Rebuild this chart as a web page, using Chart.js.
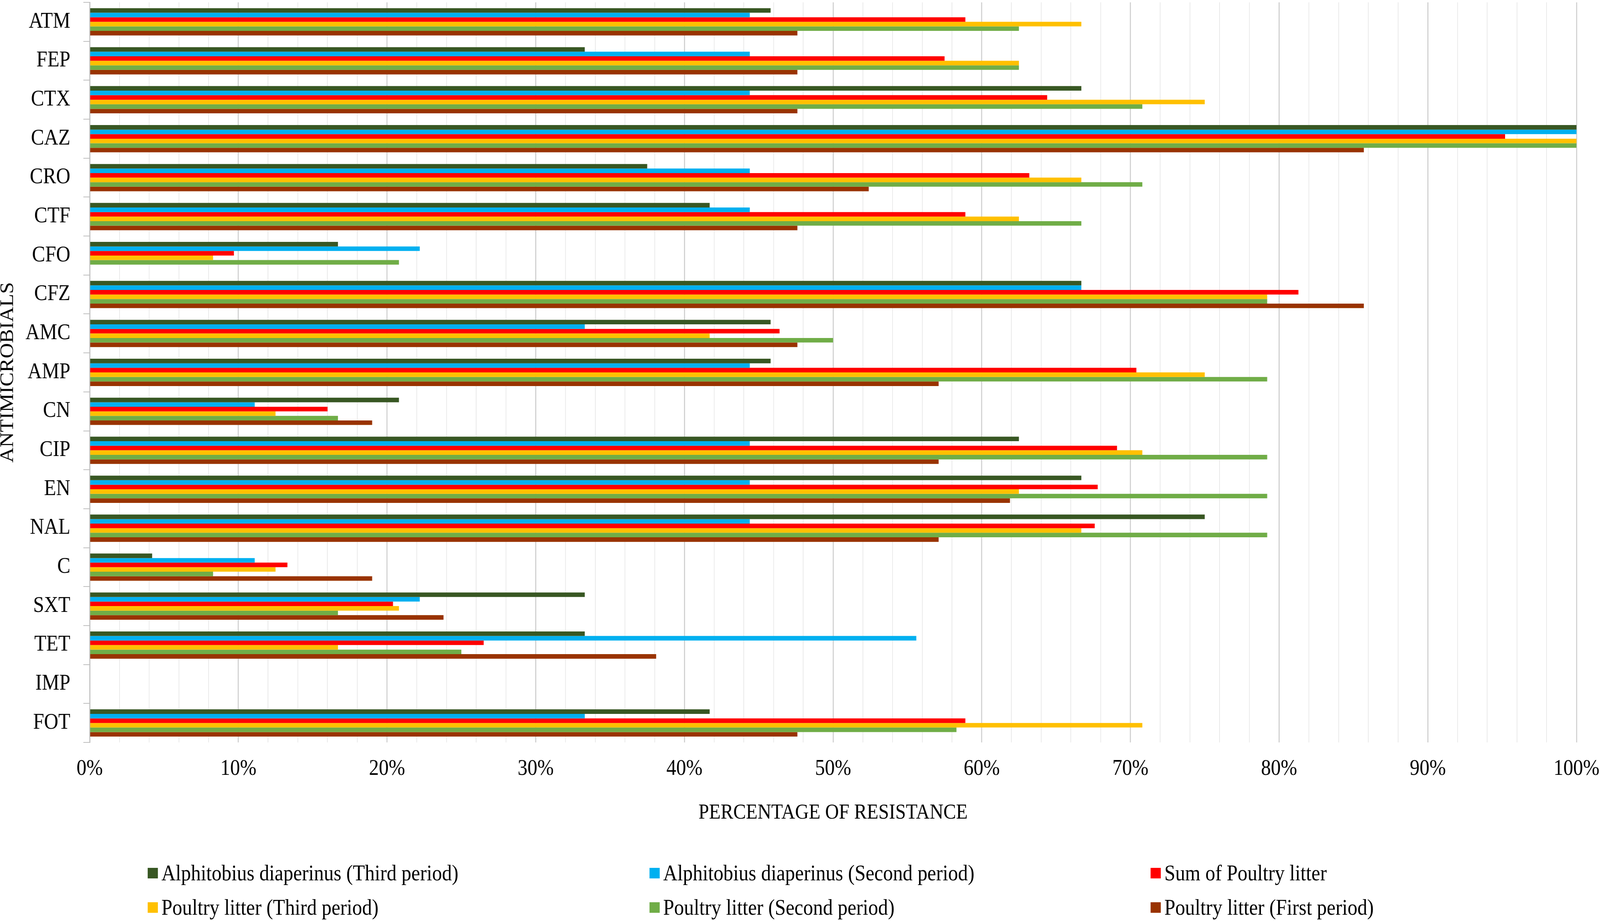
<!DOCTYPE html>
<html>
<head>
<meta charset="utf-8">
<script src="https://cdn.jsdelivr.net/npm/chart.js@4.4.1/dist/chart.umd.min.js"></script>
<style>
html,body{margin:0;padding:0;background:#fff;overflow:hidden;}
#wrap{position:absolute;left:0;top:0;width:4550px;height:2357px;overflow:hidden;background:#fff;transform-origin:0 0;}
#c{position:absolute;left:0;top:0;}
#legend{position:absolute;left:0;top:0;width:100%;height:100%;pointer-events:none;font-family:'Liberation Serif',serif;font-size:56px;color:#000;}
.item{position:absolute;display:flex;align-items:center;white-space:nowrap;transform:translateY(-50%);}
.sw{width:29px;height:27px;margin-right:10px;flex:none;}
</style>
</head>
<body>
<div id="wrap">
<canvas id="c" width="4550" height="2357"></canvas>
<div id="legend"></div>
</div>
<script>
// ---------- data ----------
const categories = ['ATM','FEP','CTX','CAZ','CRO','CTF','CFO','CFZ','AMC','AMP','CN','CIP','EN','NAL','C','SXT','TET','IMP','FOT'];

const alphitobiusThird  = [45.8, 33.3, 66.7, 100, 37.5, 41.7, 16.7, 66.7, 45.8, 45.8, 20.8, 62.5, 66.7, 75.0,  4.2, 33.3, 33.3, 0, 41.7];
const alphitobiusSecond = [44.4, 44.4, 44.4, 100, 44.4, 44.4, 22.2, 66.7, 33.3, 44.4, 11.1, 44.4, 44.4, 44.4, 11.1, 22.2, 55.6, 0, 33.3];
const sumPoultryLitter  = [58.9, 57.5, 64.4, 95.2, 63.2, 58.9,  9.7, 81.3, 46.4, 70.4, 16.0, 69.1, 67.8, 67.6, 13.3, 20.4, 26.5, 0, 58.9];
const litterThird       = [66.7, 62.5, 75.0, 100, 66.7, 62.5,  8.3, 79.2, 41.7, 75.0, 12.5, 70.8, 62.5, 66.7, 12.5, 20.8, 16.7, 0, 70.8];
const litterSecond      = [62.5, 62.5, 70.8, 100, 70.8, 66.7, 20.8, 79.2, 50.0, 79.2, 16.7, 79.2, 79.2, 79.2,  8.3, 16.7, 25.0, 0, 58.3];
const litterFirst       = [47.6, 47.6, 47.6, 85.7, 52.4, 47.6,  0,  85.7, 47.6, 57.1, 19.0, 57.1, 61.9, 57.1, 19.0, 23.8, 38.1, 0, 47.6];

const seriesLabels = [
  'Alphitobius diaperinus (Third period)',
  'Alphitobius diaperinus (Second period)',
  'Sum of Poultry litter',
  'Poultry litter (Third period)',
  'Poultry litter (Second period)',
  'Poultry litter (First period)'
];
const seriesColors = ['#385723', '#00B0F0', '#FF0000', '#FFC000', '#70AD47', '#993300'];
const seriesData = [alphitobiusThird, alphitobiusSecond, sumPoultryLitter, litterThird, litterSecond, litterFirst];

const xTickLabels = ['0%','10%','20%','30%','40%','50%','60%','70%','80%','90%','100%'];
const xAxisTitle = 'PERCENTAGE OF RESISTANCE';
const yAxisTitle = 'ANTIMICROBIALS';

// ---------- fit the 4550x2357 design into the actual viewport ----------
const W = 4550, H = 2357;
const sx = Math.min(1, window.innerWidth / W);
const sy = Math.min(1, window.innerHeight / H);
const wrap = document.getElementById('wrap');
if (sx < 1 || sy < 1) wrap.style.transform = 'scale(' + sx + ',' + sy + ')';

// ---------- chart ----------
Chart.defaults.font.family = "'Liberation Serif', 'Times New Roman', serif";
Chart.defaults.color = '#000';

new Chart(document.getElementById('c'), {
  type: 'bar',
  data: {
    labels: categories,
    datasets: seriesLabels.map((label, i) => ({
      label: label,
      data: seriesData[i],
      backgroundColor: seriesColors[i],
      borderWidth: 0,
      categoryPercentage: 0.70,
      barPercentage: 1.0
    }))
  },
  options: {
    indexAxis: 'y',
    responsive: false,
    animation: false,
    devicePixelRatio: 1,
    layout: { autoPadding: false, padding: { left: 0, top: 6, right: 67, bottom: 244 } },
    plugins: { legend: { display: false }, tooltip: { enabled: false } },
    scales: {
      x: {
        min: 0, max: 100,
        position: 'bottom',
        ticks: {
          stepSize: 2, autoSkip: false, maxRotation: 0, minRotation: 0,
          padding: 35, font: { size: 56 },
          callback: (v) => (Math.round(v) % 10 === 0 ? xTickLabels[Math.round(v) / 10] : '')
        },
        grid: {
          drawTicks: false,
          color: (c) => (c.tick && Math.round(c.tick.value) % 10 === 0 ? '#cfcfcf' : '#e8e8e8'),
          lineWidth: (c) => (c.tick && Math.round(c.tick.value) % 10 === 0 ? 3 : 2)
        },
        border: { display: false },
        title: { display: true, text: xAxisTitle, font: { size: 54 }, padding: { top: 11, bottom: 0 } },
        afterFit: (s) => { s.paddingLeft = 0; s.paddingRight = 0; }
      },
      y: {
        ticks: { font: { size: 56 }, padding: 37, autoSkip: false },
        grid: { drawOnChartArea: false, drawTicks: true, tickLength: 18, color: '#bfbfbf', lineWidth: 2, offset: true },
        border: { display: true, color: '#bfbfbf', width: 3 },
        title: { display: true, text: yAxisTitle, font: { size: 54, lineHeight: 0.85 }, padding: 0 },
        afterFit: (s) => { s.width = 255; s.paddingTop = 0; s.paddingBottom = 0; }
      }
    }
  }
});

// ---------- legend (3-column grid, as in the reference) ----------
const legendCols = [420, 1847, 3272];
const legendRows = [2234, 2322];
const legend = document.getElementById('legend');
seriesLabels.forEach((label, i) => {
  const item = document.createElement('div');
  item.className = 'item';
  item.style.left = legendCols[i % 3] + 'px';
  item.style.top = legendRows[Math.floor(i / 3)] + 'px';
  const sw = document.createElement('span');
  sw.className = 'sw';
  sw.style.background = seriesColors[i];
  const tx = document.createElement('span');
  tx.textContent = label;
  item.appendChild(sw);
  item.appendChild(tx);
  legend.appendChild(item);
});
</script>
</body>
</html>
